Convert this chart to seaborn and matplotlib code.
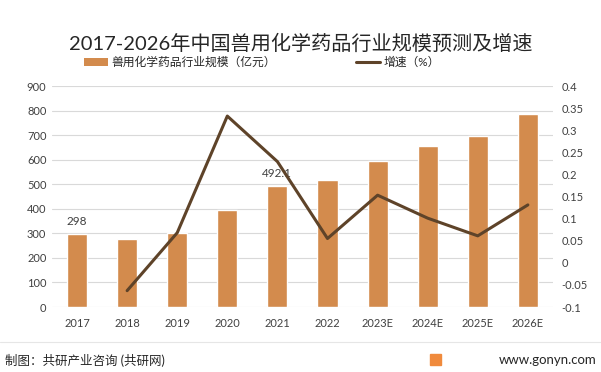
import numpy as np
import pandas as pd
import seaborn as sns
import matplotlib.pyplot as plt
from matplotlib.patches import Patch, Rectangle
from matplotlib.lines import Line2D

# data
years = ['2017', '2018', '2019', '2020', '2021', '2022', '2023E', '2024E', '2025E', '2026E']
scale = [298, 278, 300, 396, 492.1, 519, 595, 656, 698, 788]
growth = [np.nan, -0.063, 0.068, 0.332, 0.229, 0.055, 0.153, 0.101, 0.061, 0.131]
labelled = {'2017': '298', '2021': '492.1'}

bar_color = '#D38B4D'
line_color = '#5E4329'

sns.set_theme(style='white')
plt.rcParams['font.family'] = ['Lato', 'Noto Sans CJK SC', 'DejaVu Sans']
plt.rcParams['axes.unicode_minus'] = False

df = pd.DataFrame({'year': years, 'scale': scale, 'growth': growth})

fig = plt.figure(figsize=(6.01, 3.72), dpi=100)
ax = fig.add_axes([0.0865, 0.1747, 0.8335, 0.5941])

sns.barplot(data=df, x='year', y='scale', color=bar_color, width=0.4,
            saturation=1, ax=ax, zorder=3)
ax.set_ylim(0, 900)
ax.set_yticks(range(0, 901, 100))
ax.grid(axis='y', color='#D9D9D9', linewidth=0.8, zorder=0)
ax.set_axisbelow(True)
for s in ax.spines.values():
    s.set_visible(False)
ax.set_xlabel('')
ax.set_ylabel('')
ax.tick_params(axis='both', length=0, labelsize=8, colors='#404040', pad=4)
ax.tick_params(axis='x', pad=8)
ax.set_xlim(-0.5, len(years) - 0.5)

for i, y in enumerate(years):
    if y in labelled:
        ax.text(i, scale[i] + 28, labelled[y], ha='center', va='bottom',
                fontsize=8.5, color='#404040')

ax2 = ax.twinx()
sns.lineplot(data=df, x='year', y='growth', color=line_color, linewidth=2.2,
             ax=ax2, zorder=4)
ax2.set_ylim(-0.1, 0.4)
ax2.set_yticks(np.arange(-0.1, 0.401, 0.05))
ax2.set_yticklabels(['-0.1', '-0.05', '0', '0.05', '0.1', '0.15', '0.2',
                     '0.25', '0.3', '0.35', '0.4'])
for s in ax2.spines.values():
    s.set_visible(False)
ax2.set_ylabel('')
ax2.tick_params(axis='y', length=0, labelsize=8, colors='#404040', pad=6)
ax2.set_xlim(-0.5, len(years) - 0.5)

fig.text(0.5, 0.883, '2017-2026年中国兽用化学药品行业规模预测及增速',
         ha='center', va='center', fontsize=14.5, color='#262626')

handles = [Patch(facecolor=bar_color, edgecolor='none'),
           Line2D([0], [0], color=line_color, linewidth=2.2)]
fig.legend(handles, ['兽用化学药品行业规模（亿元）', '增速（%）'],
           loc='center', bbox_to_anchor=(0.436, 0.832), ncol=2, frameon=False,
           fontsize=8.5, handlelength=2.0, handletextpad=0.3,
           columnspacing=6.8, labelcolor='#262626')

# footer
fig.add_artist(Line2D([0, 1], [0.08, 0.08], color='#E6E6E6', linewidth=0.8))
fig.text(0.008, 0.032, '制图：共研产业咨询 (共研网)', ha='left', va='center',
         fontsize=9, color='#262626')
fig.add_artist(Rectangle((0.716, 0.018), 0.018, 0.03, color='#F08A3C'))
fig.text(0.993, 0.032, 'www.gonyn.com', ha='right', va='center',
         fontsize=9.5, color='#262626')

fig.savefig('out.png', dpi=100)
